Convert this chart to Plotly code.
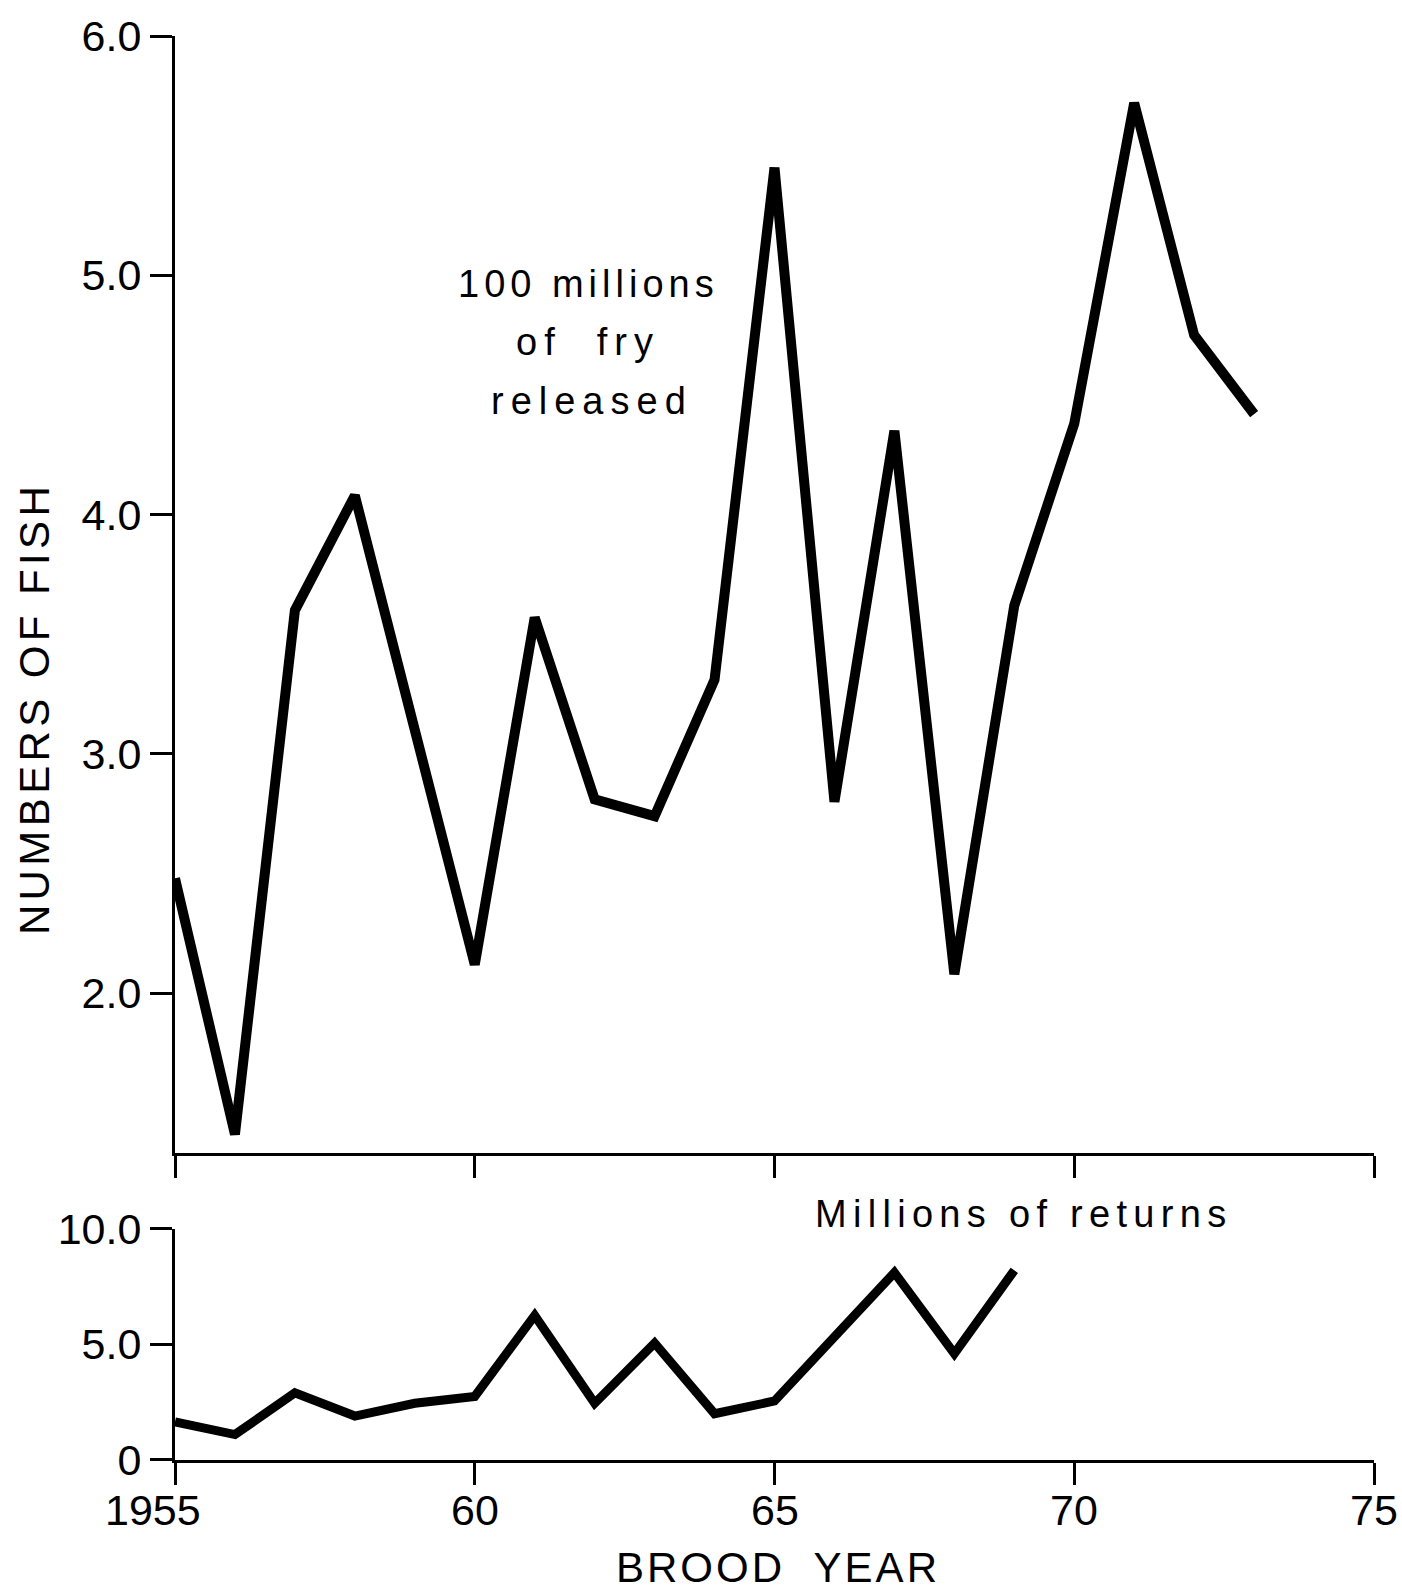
import plotly.graph_objects as go

# Brood years and series
fry_years = list(range(1955, 1974))
fry_released = [2.48, 1.41, 3.60, 4.08, 3.10, 2.12, 3.57, 2.81, 2.74, 3.31,
                5.45, 2.80, 4.35, 2.08, 3.62, 4.38, 5.72, 4.75, 4.42]  # hundreds of millions

return_years = list(range(1955, 1970))
returns = [1.65, 1.10, 2.90, 1.90, 2.45, 2.75, 6.25, 2.45, 5.05, 2.00,
           2.55, 5.35, 8.10, 4.60, 8.20]  # millions

x_ticks = [1955, 1960, 1965, 1970, 1975]
x_ticktext = ["1955", "60", "65", "70", "75"]
top_ticks = [2.0, 3.0, 4.0, 5.0, 6.0]
top_ticktext = ["2.0", "3.0", "4.0", "5.0", "6.0"]
bot_ticks = [0, 5, 10]
bot_ticktext = ["0", "5.0", "10.0"]

W, H = 1402, 1595
L, R, T, B = 175, 28, 32, 135
plot_h = H - T - B


def frac(py):
    """Pixel row -> paper fraction."""
    return (H - B - py) / plot_h


def xfrac(px):
    """Pixel column -> paper fraction."""
    return (px - L) / (W - L - R)


INK = "#000000"
MAIN_FONT = "Liberation Sans, Arial, sans-serif"
TICK_FONT = dict(family=MAIN_FONT, size=43, color=INK)

fig = go.Figure()
fig.add_trace(go.Scatter(x=fry_years, y=fry_released, mode="lines",
                         line=dict(color=INK, width=10), xaxis="x", yaxis="y",
                         cliponaxis=False, showlegend=False))
fig.add_trace(go.Scatter(x=return_years, y=returns, mode="lines",
                         line=dict(color=INK, width=9), xaxis="x2", yaxis="y2",
                         cliponaxis=False, showlegend=False))

axis_common = dict(showgrid=False, zeroline=False, showline=True, linecolor=INK,
                   linewidth=3, ticks="outside", tickcolor=INK, tickwidth=3,
                   ticklen=22, mirror=False)

fig.update_layout(
    width=W, height=H,
    margin=dict(l=L, r=R, t=T, b=B),
    paper_bgcolor="white", plot_bgcolor="white",
    xaxis=dict(axis_common, range=[1955, 1975], domain=[0, 1], anchor="y",
               tickvals=x_ticks, showticklabels=False),
    yaxis=dict(axis_common, range=[1.333, 6.0], domain=[frac(1152), 1.0],
               anchor="x", tickvals=top_ticks, ticktext=top_ticktext,
               tickfont=TICK_FONT),
    xaxis2=dict(axis_common, range=[1955, 1975], domain=[0, 1], anchor="y2",
                tickvals=x_ticks, showticklabels=False),
    yaxis2=dict(axis_common, range=[0, 10], domain=[0, frac(1228)], anchor="x2",
                tickvals=bot_ticks, ticktext=bot_ticktext,
                tickfont=TICK_FONT),
)

# Year labels under the lower axis (first one sits left of its tick)
for i, (v, t) in enumerate(zip(x_ticks, x_ticktext)):
    fig.add_annotation(text=t, xref="x2", yref="paper", x=v, y=frac(1510),
                       xshift=-22 if i == 0 else 0,
                       showarrow=False, xanchor="center", yanchor="middle",
                       font=TICK_FONT)


def spaced(text, px):
    return f'<span style="letter-spacing:{px}px">{text}</span>'


annotations = [
    dict(text=spaced("100 millions", 5), x=588, y=281, size=38),
    dict(text=spaced("of  fry", 7), x=588, y=339, size=38),
    dict(text=spaced("released", 7), x=592, y=398, size=38),
    dict(text=spaced("Millions of returns", 6.3), x=1023, y=1213, size=38),
    dict(text=spaced("BROOD  YEAR", 3), x=778, y=1568, size=42),
]
for a in annotations:
    fig.add_annotation(text=a["text"], xref="paper", yref="paper",
                       x=xfrac(a["x"]), y=frac(a["y"]),
                       showarrow=False, xanchor="center", yanchor="middle",
                       font=dict(family=MAIN_FONT, size=a["size"], color=INK))

# Rotated y-axis title
fig.add_annotation(text=spaced("NUMBERS OF FISH", 4.4), xref="paper", yref="paper",
                   x=xfrac(34), y=frac(707), textangle=-90,
                   showarrow=False, xanchor="center", yanchor="middle",
                   font=dict(family=MAIN_FONT, size=42, color=INK))

fig.write_html("out.html")
